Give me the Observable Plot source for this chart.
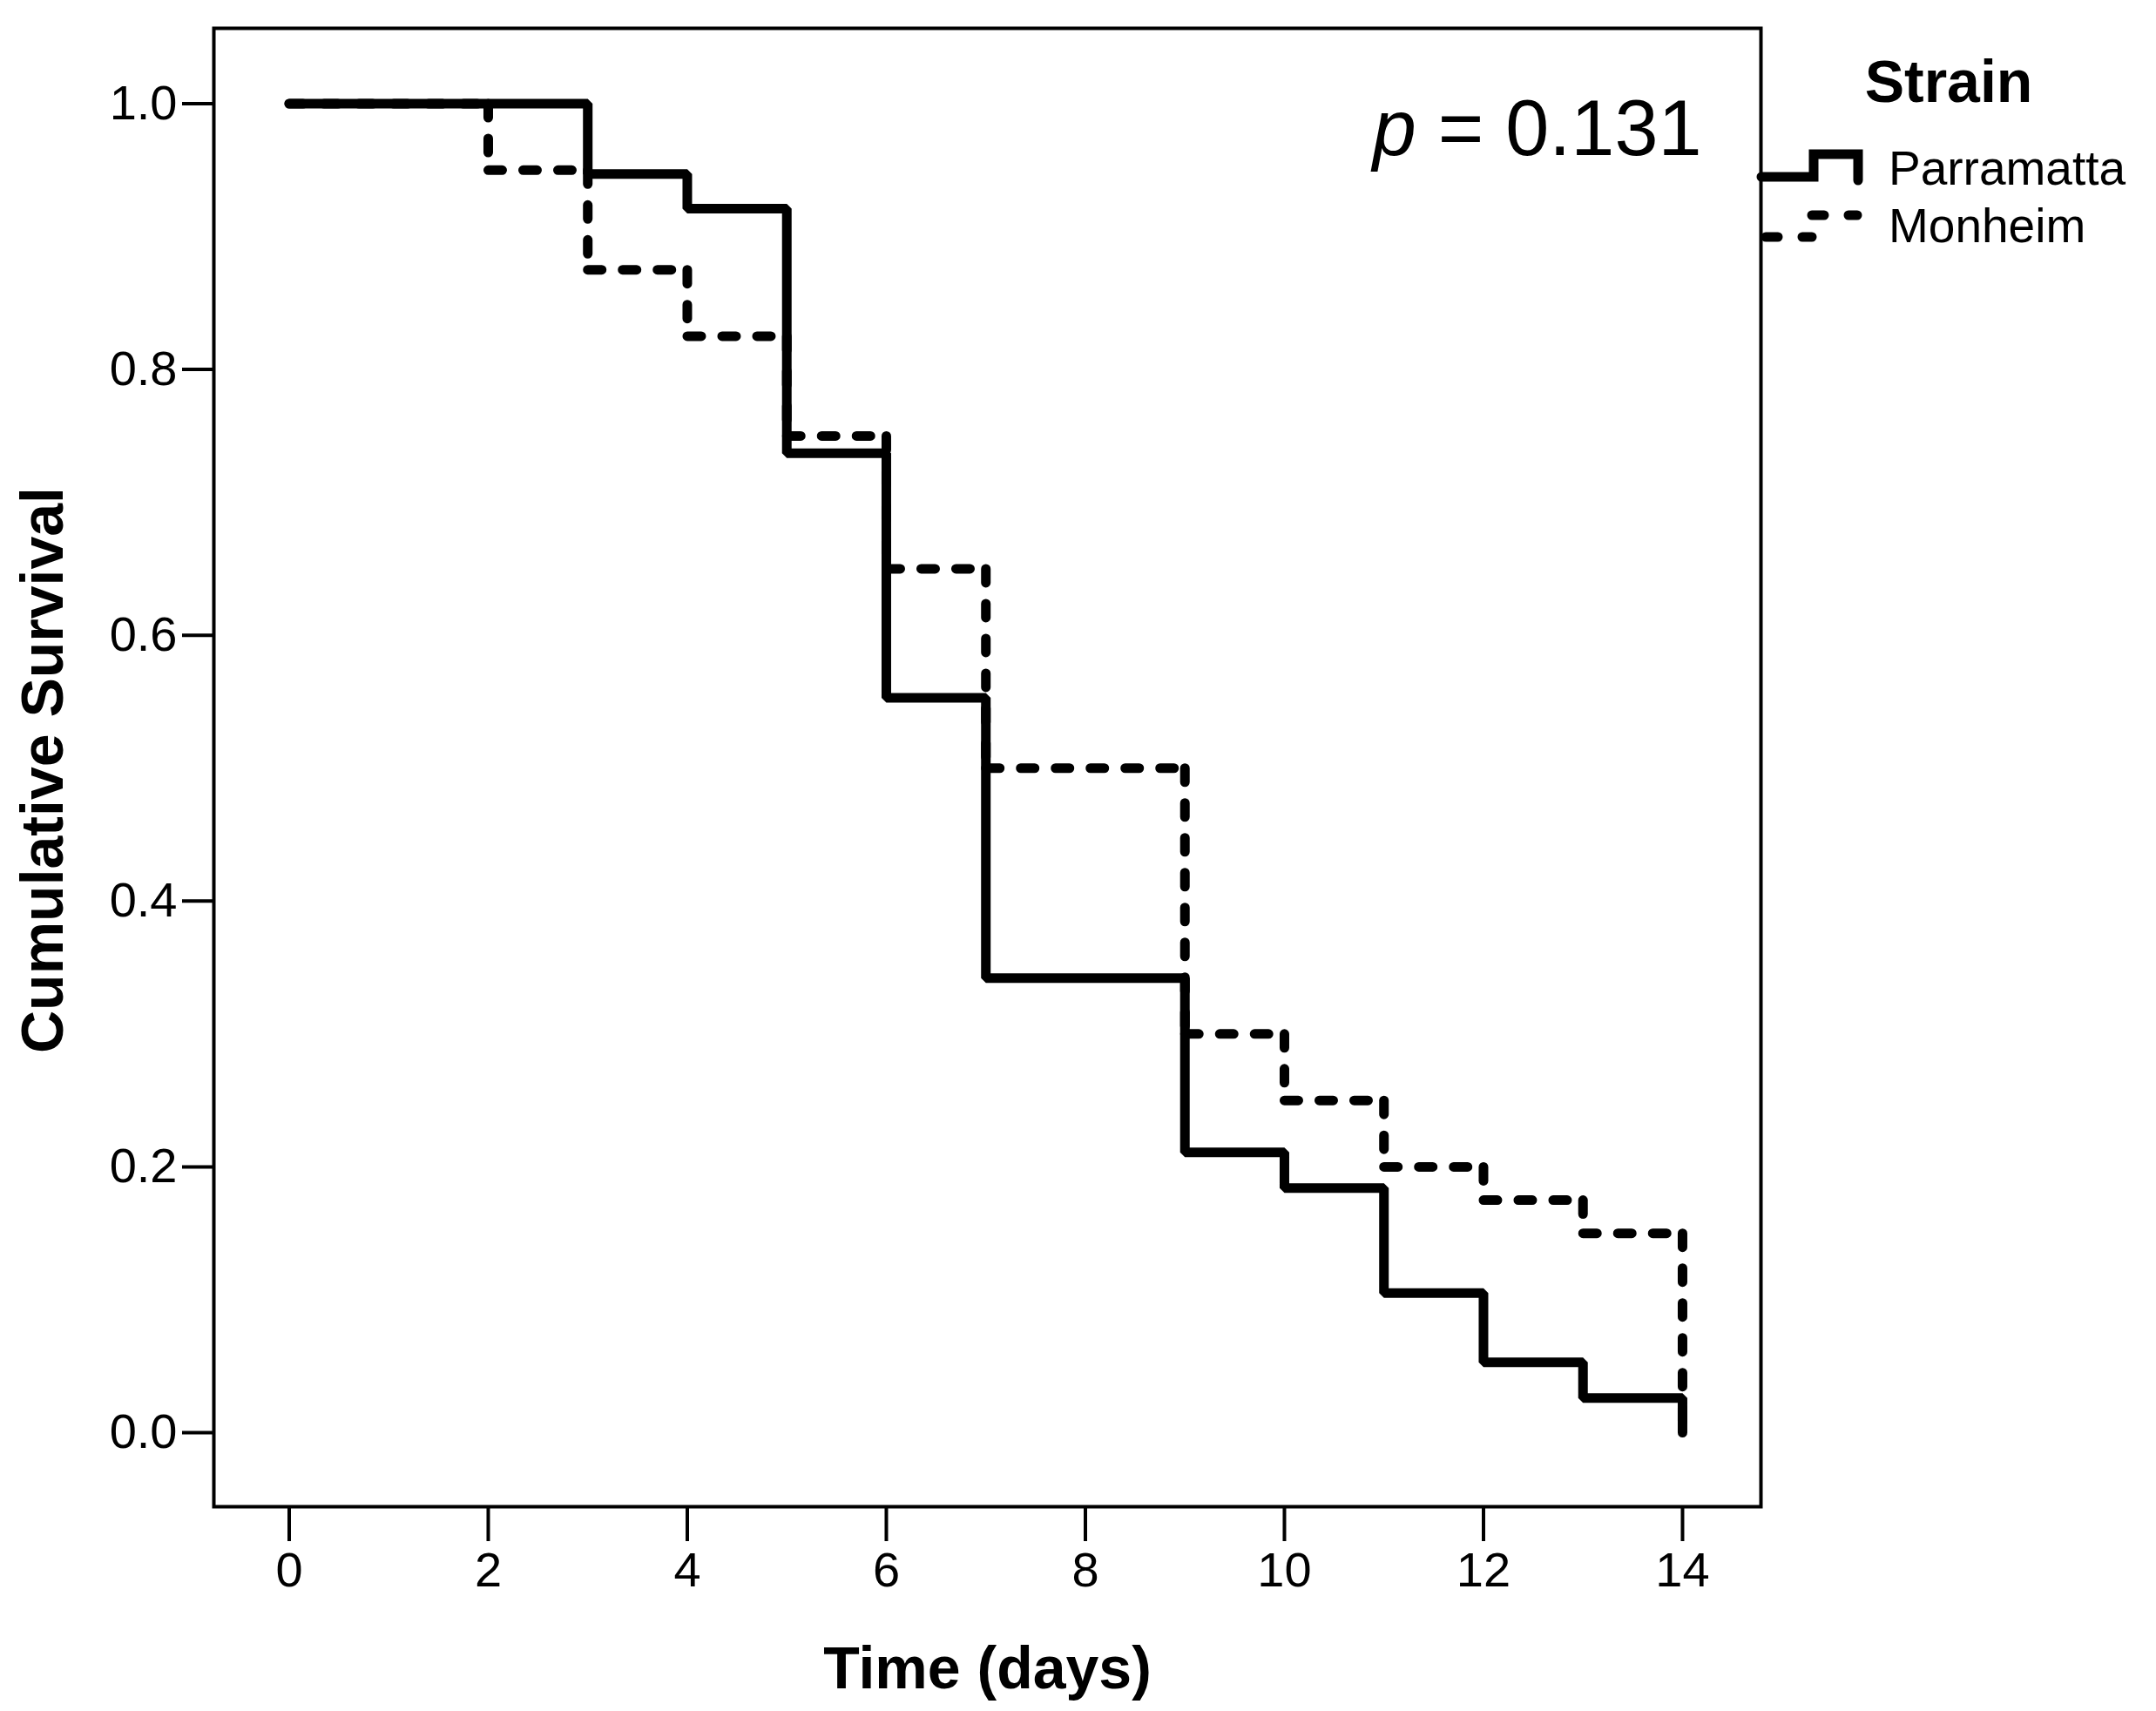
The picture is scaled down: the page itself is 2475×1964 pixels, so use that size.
<!DOCTYPE html>
<html>
<head>
<meta charset="utf-8">
<script src="https://cdn.jsdelivr.net/npm/d3@7"></script>
<script src="https://cdn.jsdelivr.net/npm/@observablehq/plot@0.6"></script>
<style>
  html, body { margin: 0; padding: 0; background: #ffffff; }
  #chart { width: 2475px; height: 1964px; }
</style>
</head>
<body>
<div id="chart"></div>
<script>
// ---- Data ----
const parTimes = [0, 3, 4, 5, 6, 7, 9, 10, 11, 12, 13, 14];
const parSurv  = [1.0, 0.947, 0.921, 0.737, 0.553, 0.342, 0.211, 0.184, 0.105, 0.053, 0.026, 0.0];
const monTimes = [0, 2, 3, 4, 5, 6, 7, 9, 10, 11, 12, 13, 14];
const monSurv  = [1.0, 0.95, 0.875, 0.825, 0.75, 0.65, 0.5, 0.3, 0.25, 0.2, 0.175, 0.15, 0.0];
const strains  = ["Parramatta", "Monheim"];
const xTicks   = [0, 2, 4, 6, 8, 10, 12, 14];
const yTicks   = [0.0, 0.2, 0.4, 0.6, 0.8, 1.0];
const xTitle   = "Time (days)";
const yTitle   = "Cumulative Survival";
const legendTitle = "Strain";
const pText    = "p = 0.131";

// ---- Derived tables ----
const parData = parTimes.map((t, i) => ({t, s: parSurv[i]}));
const monSegs = [];
for (let i = 0; i < monTimes.length - 1; i++) {
  monSegs.push({x1: monTimes[i], y1: monSurv[i], x2: monTimes[i + 1], y2: monSurv[i]});
  monSegs.push({x1: monTimes[i + 1], y1: monSurv[i], x2: monTimes[i + 1], y2: monSurv[i + 1]});
}

const FONT = "'Liberation Sans', Arial, Helvetica, sans-serif";
const LW = 11;

const chart = Plot.plot({
  width: 2475,
  height: 1964,
  marginLeft: 245,
  marginRight: 454,
  marginTop: 32,
  marginBottom: 235,
  style: {fontFamily: FONT, background: "#ffffff", color: "#000"},
  x: {domain: [-0.757, 14.788]},
  y: {domain: [-0.0557, 1.0567]},
  marks: [
    Plot.link(monSegs, {
      x1: "x1", y1: "y1", x2: "x2", y2: "y2",
      stroke: "#000", strokeWidth: LW,
      strokeDasharray: "16,24", strokeLinecap: "round"
    }),
    Plot.line(parData, {
      x: "t", y: "s", curve: "step-after",
      stroke: "#000", strokeWidth: LW,
      strokeLinecap: "round", strokeLinejoin: "miter"
    }),
    Plot.frame({stroke: "#000", strokeWidth: 4}),
    Plot.axisX({
      ticks: xTicks, tickSize: 40, tickPadding: 12, strokeWidth: 4,
      fontSize: 56, label: null, tickFormat: d => String(d)
    }),
    Plot.axisY({
      ticks: yTicks, tickSize: 36, tickPadding: 6, strokeWidth: 4,
      fontSize: 56, label: null, tickFormat: d3.format(".1f")
    }),
    Plot.text([xTitle], {
      text: d => d, frameAnchor: "bottom", lineAnchor: "bottom",
      dy: 208, fontSize: 68, fontWeight: "bold", fontFamily: FONT, fill: "#000"
    }),
    Plot.text([yTitle], {
      text: d => d, frameAnchor: "left", rotate: -90, lineAnchor: "middle", textAnchor: "middle",
      dx: -195, dy: 3, fontSize: 68, fontWeight: "bold", fontFamily: FONT, fill: "#000"
    }),
    Plot.text([pText], {
      text: d => d, frameAnchor: "top-right", textAnchor: "end", lineAnchor: "bottom",
      dx: -68, dy: 145, fontSize: 90, fontFamily: FONT, fill: "#000"
    })
  ]
});

document.getElementById("chart").appendChild(chart);

// italic "p" in the p-value label
d3.select(chart).selectAll("text").each(function () {
  if (this.textContent === pText) {
    const sel = d3.select(this);
    sel.text(null);
    sel.append("tspan").attr("font-style", "italic").text(pText.slice(0, 1));
    sel.append("tspan").text(pText.slice(1));
  }
});

// ---- Legend (outside the frame, on the right) ----
const lg = d3.select(chart).append("g").attr("font-family", FONT).attr("fill", "#000")
  .attr("text-anchor", "start");
lg.append("text").attr("x", 2237).attr("y", 117).attr("text-anchor", "middle")
  .attr("font-size", 68).attr("font-weight", "bold").text(legendTitle);
lg.append("path")
  .attr("d", "M2022,203H2082V177H2133V207")
  .attr("fill", "none").attr("stroke", "#000").attr("stroke-width", LW)
  .attr("stroke-linejoin", "miter").attr("stroke-linecap", "round");
lg.append("path")
  .attr("d", "M2027,272H2080")
  .attr("fill", "none").attr("stroke", "#000").attr("stroke-width", LW)
  .attr("stroke-dasharray", "14,28").attr("stroke-linecap", "round");
lg.append("path")
  .attr("d", "M2080,247H2132")
  .attr("fill", "none").attr("stroke", "#000").attr("stroke-width", LW)
  .attr("stroke-dasharray", "14,28").attr("stroke-linecap", "round");
lg.append("text").attr("x", 2168).attr("y", 212).attr("text-anchor", "start")
  .attr("font-size", 55).text(strains[0]);
lg.append("text").attr("x", 2168).attr("y", 278).attr("text-anchor", "start")
  .attr("font-size", 55).text(strains[1]);
</script>
</body>
</html>
